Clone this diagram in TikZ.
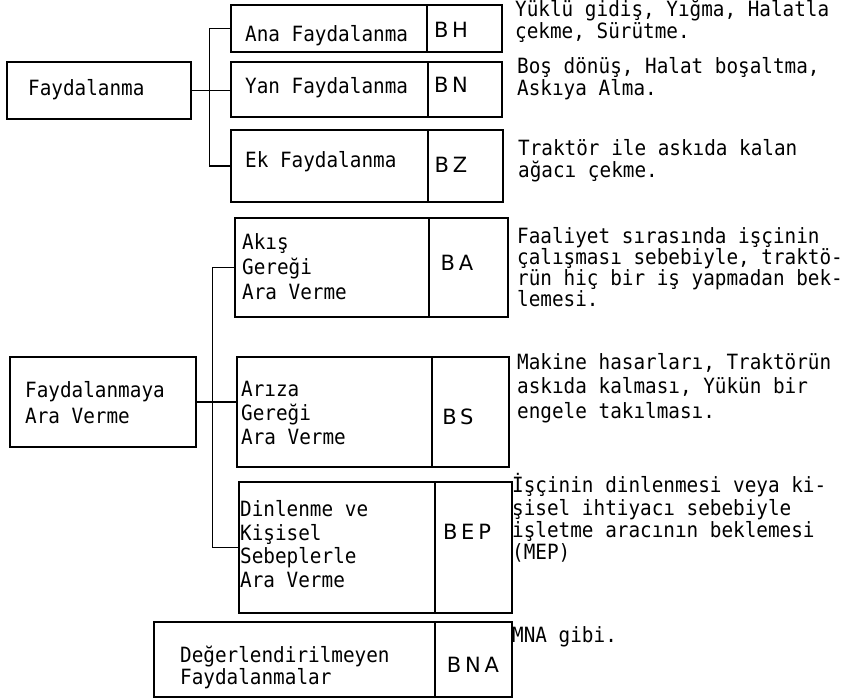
\documentclass[tikz,border=0pt]{standalone}
\usepackage{fontspec}
\newfontfamily\tw[FakeStretch=0.92]{DejaVu Sans Mono}
\newfontfamily\cf[LetterSpace=18]{DejaVu Sans}
\usetikzlibrary{fit}
\begin{document}
\begin{tikzpicture}[x=1pt,y=-1pt,
  box/.style={draw,line width=1.4pt,inner sep=0pt},
  txt/.style={anchor=west,inner sep=0pt,align=left,font=\tw\fontsize{21}{#1}\selectfont},
  txt/.default=23,
  code/.style={inner sep=0pt,font=\cf\fontsize{21}{23}\selectfont},
  link/.style={line width=1.4pt}]
\useasboundingbox (0,0) rectangle (858,699);
% left boxes
\node[box,fit={(7,62) (191,119)}] (fay) {};
\node[box,fit={(10,357) (196,447)}] (fya) {};
% name boxes
\node[box,fit={(231,5) (427,52)}] (ana) {};
\node[box,fit={(231,62) (428,117)}] (yan) {};
\node[box,fit={(231,130) (428,202)}] (ek) {};
\node[box,fit={(235,218) (429,317)}] (aks) {};
\node[box,fit={(237,357) (432,467)}] (ari) {};
\node[box,fit={(239,482) (435,613)}] (din) {};
\node[box,fit={(154,622) (435,697)}] (deg) {};
% code boxes
\node[box,fit={(427,5) (502,52)}] (bh) {};
\node[box,fit={(428,62) (502,117)}] (bn) {};
\node[box,fit={(428,130) (503,202)}] (bz) {};
\node[box,fit={(429,218) (508,317)}] (ba) {};
\node[box,fit={(432,357) (509,467)}] (bs) {};
\node[box,fit={(435,482) (512,613)}] (bep) {};
\node[box,fit={(435,622) (512,697)}] (bna) {};
% box texts
\node[txt] (tfay) at (28,90) {Faydalanma};
\node[txt=26] (tfya) at (25,403) {Faydalanmaya\\Ara Verme};
\node[txt] (tana) at (245,36) {Ana Faydalanma};
\node[txt] (tyan) at (245,88) {Yan Faydalanma};
\node[txt] (tek) at (245,162) {Ek Faydalanma};
\node[txt=25] (taks) at (242,267) {Akış\\Gereği\\Ara Verme};
\node[txt=24] (tari) at (241,413) {Arıza\\Gereği\\Ara Verme};
\node[txt=23.7] (tdin) at (240,544) {Dinlenme ve\\Kişisel\\Sebeplerle\\Ara Verme};
\node[txt=22] (tdeg) at (180,667) {Değerlendirilmeyen\\Faydalanmalar};
% codes
\node[code] (cbh) at (451,30) {BH};
\node[code] (cbn) at (451,85) {BN};
\node[code] (cbz) at (451,165) {BZ};
\node[code] (cba) at (457,263) {BA};
\node[code] (cbs) at (458,417) {BS};
\node[code] (cbep) at (467,532) {BEP};
\node[code] (cbna) at (473,665) {BNA};
% descriptions
\node[txt=22] (d1) at (515,21) {Yüklü gidiş, Yığma, Halatla\\çekme, Sürütme.};
\node[txt=22] (d2) at (517,79) {Boş dönüş, Halat boşaltma,\\Askıya Alma.};
\node[txt=22] (d3) at (518,161) {Traktör ile askıda kalan\\ağacı çekme.};
\node[txt=21] (d4) at (517,267) {Faaliyet sırasında işçinin\\çalışması sebebiyle, traktö-\\rün hiç bir iş yapmadan bek-\\lemesi.};
\node[txt=24.5] (d5) at (517,388) {Makine hasarları, Traktörün\\askıda kalması, Yükün bir\\engele takılması.};
\node[txt=22.3] (d6) at (512,518) {İşçinin dinlenmesi veya ki-\\şisel ihtiyacı sebebiyle\\işletme aracının beklemesi\\(MEP)};
\node[txt] (d7) at (512,637) {MNA gibi.};
% connectors
\draw[link] (fay.east) -- (fay.east -| yan.west);
\draw[link] (ana.west) -- ++(-21,0) |- (ek.west);
\draw[link] (fya.east) -- (fya.east -| ari.west);
\draw[link] (aks.west) -- ++(-22,0) |- (din.west);
\end{tikzpicture}
\end{document}
